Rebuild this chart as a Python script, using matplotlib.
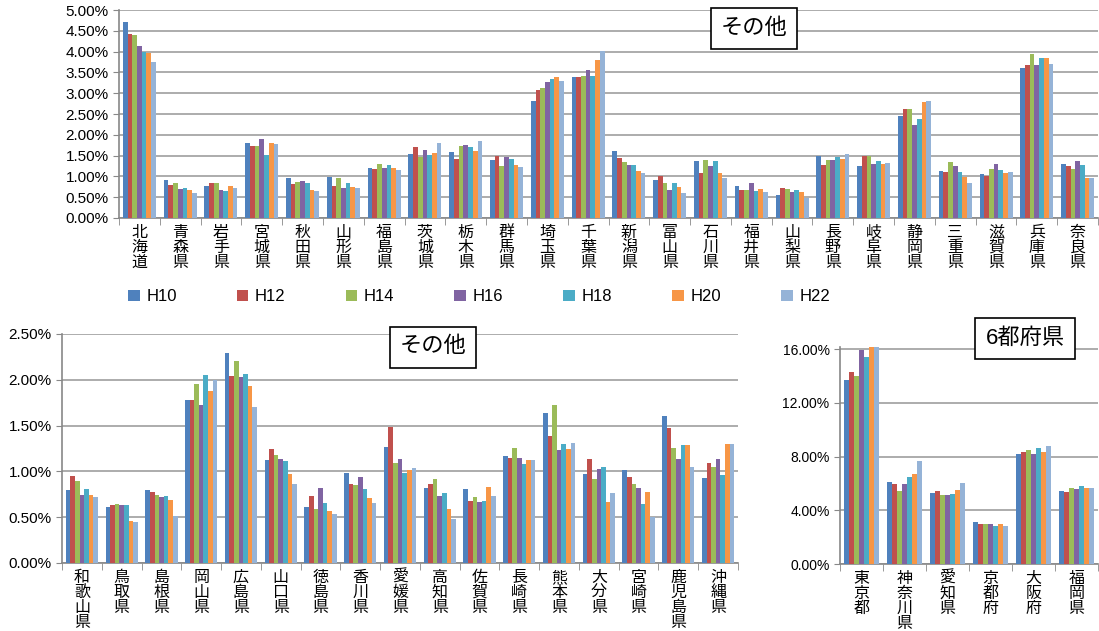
import matplotlib
matplotlib.use('Agg')
import matplotlib.pyplot as plt
import numpy as np
from matplotlib.ticker import PercentFormatter, MultipleLocator

plt.rcParams['font.family'] = ['Liberation Sans', 'Noto Sans CJK JP']

years = ['H10', 'H12', 'H14', 'H16', 'H18', 'H20', 'H22']
colors = ['#4F81BD', '#C0504D', '#9BBB59', '#8064A2', '#4BACC6', '#F79646', '#95B3D7']

# top panel (その他), values in %: one row per prefecture, H10..H22
top_names = ['北海道', '青森県', '岩手県', '宮城県', '秋田県', '山形県', '福島県', '茨城県',
             '栃木県', '群馬県', '埼玉県', '千葉県', '新潟県', '富山県', '石川県', '福井県',
             '山梨県', '長野県', '岐阜県', '静岡県', '三重県', '滋賀県', '兵庫県', '奈良県']
top_values = [
    [4.72, 4.43, 4.40, 4.13, 4.00, 3.96, 3.76],
    [0.91, 0.80, 0.83, 0.70, 0.73, 0.68, 0.59],
    [0.77, 0.84, 0.84, 0.67, 0.66, 0.76, 0.72],
    [1.81, 1.73, 1.73, 1.89, 1.52, 1.81, 1.79],
    [0.95, 0.81, 0.86, 0.89, 0.84, 0.68, 0.64],
    [0.98, 0.77, 0.97, 0.72, 0.83, 0.74, 0.73],
    [1.21, 1.18, 1.30, 1.20, 1.27, 1.19, 1.16],
    [1.54, 1.71, 1.46, 1.63, 1.52, 1.56, 1.81],
    [1.58, 1.42, 1.74, 1.75, 1.71, 1.61, 1.84],
    [1.40, 1.48, 1.26, 1.46, 1.41, 1.27, 1.23],
    [2.81, 3.08, 3.12, 3.26, 3.33, 3.40, 3.30],
    [3.40, 3.40, 3.41, 3.55, 3.41, 3.80, 4.02],
    [1.60, 1.44, 1.34, 1.27, 1.27, 1.13, 1.09],
    [0.91, 1.02, 0.85, 0.67, 0.85, 0.75, 0.60],
    [1.38, 1.07, 1.40, 1.26, 1.38, 1.07, 0.95],
    [0.76, 0.68, 0.68, 0.84, 0.64, 0.69, 0.63],
    [0.56, 0.72, 0.70, 0.63, 0.67, 0.63, 0.47],
    [1.48, 1.27, 1.39, 1.40, 1.46, 1.41, 1.53],
    [1.25, 1.49, 1.48, 1.29, 1.36, 1.31, 1.32],
    [2.44, 2.63, 2.63, 2.23, 2.39, 2.80, 2.81],
    [1.13, 1.10, 1.34, 1.25, 1.11, 0.98, 0.84],
    [1.05, 1.01, 1.17, 1.29, 1.15, 1.07, 1.11],
    [3.61, 3.68, 3.94, 3.68, 3.84, 3.84, 3.70],
    [1.30, 1.24, 1.18, 1.36, 1.27, 0.97, 0.97],
]

# bottom-left panel (その他)
west_names = ['和歌山県', '鳥取県', '島根県', '岡山県', '広島県', '山口県', '徳島県', '香川県', '愛媛県',
              '高知県', '佐賀県', '長崎県', '熊本県', '大分県', '宮崎県', '鹿児島県', '沖縄県']
west_values = [
    [0.80, 0.95, 0.90, 0.74, 0.81, 0.74, 0.72],
    [0.61, 0.63, 0.64, 0.63, 0.63, 0.46, 0.45],
    [0.80, 0.78, 0.74, 0.72, 0.73, 0.69, 0.51],
    [1.78, 1.78, 1.95, 1.72, 2.05, 1.88, 2.00],
    [2.29, 2.04, 2.20, 2.03, 2.06, 1.93, 1.70],
    [1.12, 1.24, 1.18, 1.14, 1.11, 0.97, 0.86],
    [0.61, 0.73, 0.59, 0.82, 0.65, 0.57, 0.53],
    [0.98, 0.86, 0.85, 0.94, 0.81, 0.71, 0.66],
    [1.27, 1.48, 1.09, 1.14, 0.98, 1.01, 1.04],
    [0.82, 0.86, 0.92, 0.73, 0.76, 0.59, 0.48],
    [0.81, 0.68, 0.72, 0.67, 0.68, 0.83, 0.73],
    [1.17, 1.15, 1.26, 1.15, 1.08, 1.12, 1.12],
    [1.64, 1.39, 1.73, 1.23, 1.30, 1.24, 1.31],
    [0.97, 1.13, 0.92, 1.03, 1.05, 0.67, 0.76],
    [1.02, 0.94, 0.86, 0.82, 0.64, 0.78, 0.50],
    [1.60, 1.47, 1.26, 1.14, 1.29, 1.29, 1.05],
    [0.93, 1.09, 1.05, 1.13, 0.96, 1.30, 1.30],
]

# bottom-right panel (6都府県)
big_names = ['東京都', '神奈川県', '愛知県', '京都府', '大阪府', '福岡県']
big_values = [
    [13.7, 14.3, 14.0, 15.9, 15.4, 16.3, 16.3],
    [6.10, 5.95, 5.40, 5.95, 6.45, 6.70, 7.70],
    [5.25, 5.40, 5.10, 5.10, 5.20, 5.50, 6.00],
    [3.10, 3.00, 2.95, 3.00, 2.85, 3.00, 2.85],
    [8.20, 8.30, 8.45, 8.20, 8.65, 8.35, 8.75],
    [5.45, 5.35, 5.65, 5.55, 5.80, 5.65, 5.65],
]

W, H = 1099, 631


def px_axes(fig, x0, y0, x1, y1):
    return fig.add_axes([x0 / W, 1 - y1 / H, (x1 - x0) / W, (y1 - y0) / H])


def draw(ax, names, rows, ymax, step, ysize=11):
    vals = np.array(rows)
    n = len(names)
    x = np.arange(n)
    grp = 0.81
    w = grp / len(years)
    for i, (yr, c) in enumerate(zip(years, colors)):
        ax.bar(x - grp / 2 + w * (i + 0.5), vals[:, i], width=w, color=c,
               linewidth=0, label=yr, zorder=3)
    ax.set_xlim(-0.5, n - 0.5)
    ax.set_ylim(0, ymax)
    ax.yaxis.set_major_locator(MultipleLocator(step))
    ax.yaxis.set_major_formatter(PercentFormatter(decimals=2))
    ax.grid(axis='y', color='#a6a6a6', lw=1.3)
    ax.set_axisbelow(True)
    ax.set_xticks(x)
    ax.set_xticklabels(['\n'.join(s) for s in names], fontsize=11.5, linespacing=1.0, va='top')
    ax.set_xticks(np.arange(-0.5, n), minor=True)
    ax.tick_params(axis='x', which='major', length=0, pad=5)
    ax.tick_params(axis='x', which='minor', length=5, color='#888888')
    ax.tick_params(axis='y', length=4, color='#888888', labelsize=ysize)
    for s in ['top', 'right']:
        ax.spines[s].set_visible(False)
    for s in ['left', 'bottom']:
        ax.spines[s].set_color('#888888')
        ax.spines[s].set_linewidth(1.2)


fig = plt.figure(figsize=(W / 100, H / 100), dpi=100)

ax1 = px_axes(fig, 119, 10, 1098, 218)
draw(ax1, top_names, top_values, 5.0, 0.5)

ax2 = px_axes(fig, 62, 334, 738, 563)
draw(ax2, west_names, west_values, 2.5, 0.5)

ax3 = px_axes(fig, 840, 347, 1098, 564)
draw(ax3, big_names, big_values, 16.15, 4.0, ysize=10)

box = dict(boxstyle='square,pad=0.45', fc='white', ec='black', lw=1.2)
fig.text(754 / W, 1 - 28 / H, 'その他', fontsize=16, ha='center', va='center', bbox=box)
fig.text(433 / W, 1 - 347 / H, 'その他', fontsize=16, ha='center', va='center', bbox=box)
fig.text(1025 / W, 1 - 338 / H, '6都府県', fontsize=16, ha='center', va='center', bbox=box)

handles, labels = ax1.get_legend_handles_labels()
fig.legend(handles, labels, loc='center', bbox_to_anchor=(479 / W, 1 - 297 / H), ncol=7,
           frameon=False, fontsize=12, handlelength=0.7, handleheight=0.7,
           handletextpad=0.4, columnspacing=3.6)

fig.savefig('out.png', dpi=100)
